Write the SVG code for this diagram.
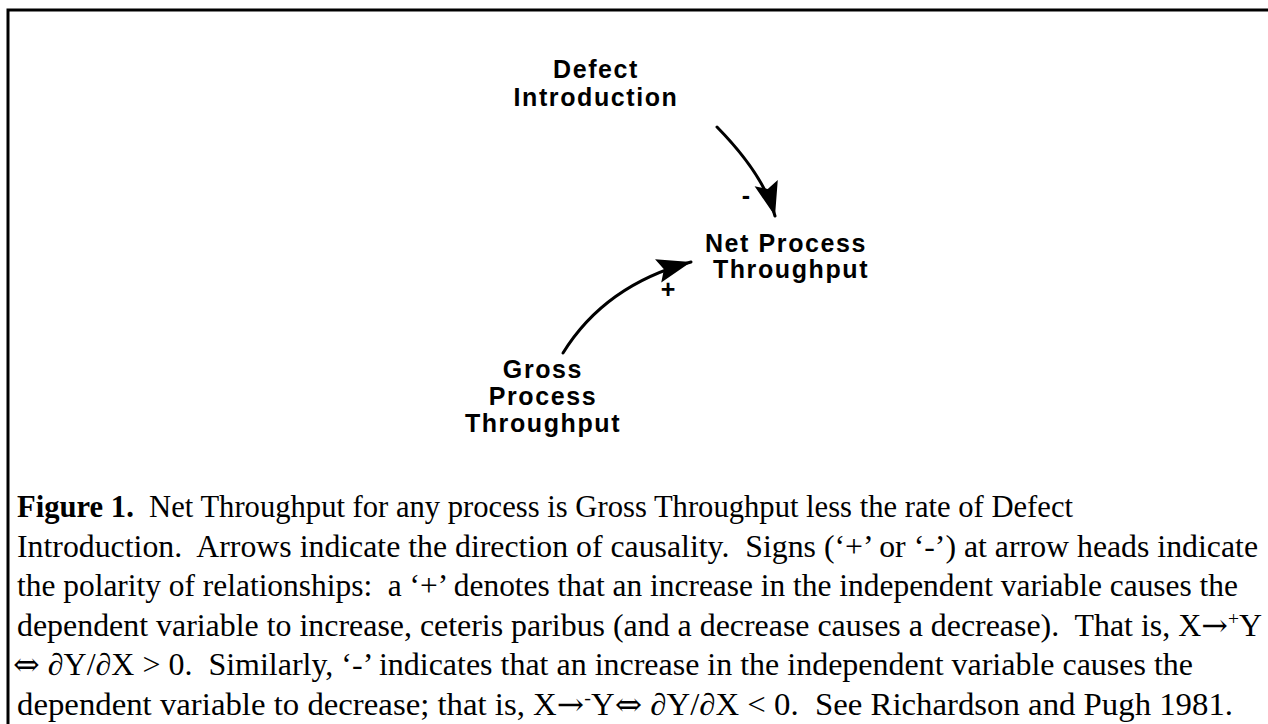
<svg xmlns="http://www.w3.org/2000/svg" width="1268" height="724" viewBox="0 0 1268 724">
<style>
.node{font-family:"Liberation Sans",Arial,sans-serif;font-weight:bold;font-size:25px;letter-spacing:1.6px;fill:#000;text-anchor:middle}
.sign{font-family:"Liberation Sans",Arial,sans-serif;font-weight:bold;font-size:25px;fill:#000;text-anchor:middle}
.link{fill:none;stroke:#000;stroke-width:3;stroke-linecap:round}
.cap{font-family:"Liberation Serif","Times New Roman",serif;font-size:31px;fill:#000}
.sym{font-family:"DejaVu Serif","Liberation Serif",serif}
.sup{font-size:19px}
</style>
<defs>
<marker id="head" markerUnits="userSpaceOnUse" markerWidth="38" markerHeight="28" refX="34" refY="12" orient="auto">
<path d="M0,0 L34,12 L0,24 L6,12 Z" fill="#000"/>
</marker>
</defs>
<rect width="1268" height="724" fill="#fff"/>
<path d="M8,724 V10 H1268" fill="none" stroke="#000" stroke-width="3"/>
<g id="connectors">
<path class="link" d="M717,127 Q764,175 775,216" marker-end="url(#head)"/>
<path class="link" d="M563,353 Q605,285 691,262" marker-end="url(#head)"/>
<text class="sign" x="746" y="204">-</text>
<text class="sign" x="668" y="298">+</text>
</g>
<g id="defect-introduction">
<text class="node" x="596" y="78">Defect</text>
<text class="node" x="596" y="106">Introduction</text>
</g>
<g id="net-process-throughput">
<text class="node" x="786" y="252">Net Process</text>
<text class="node" x="791" y="278">Throughput</text>
</g>
<g id="gross-process-throughput">
<text class="node" x="543" y="378">Gross</text>
<text class="node" x="543" y="405">Process</text>
<text class="node" x="543" y="432">Throughput</text>
</g>
<g id="caption" class="cap">
<text x="17" y="517" textLength="1056" lengthAdjust="spacingAndGlyphs"><tspan font-weight="bold">Figure 1.</tspan>&#160; Net Throughput for any process is Gross Throughput less the rate of Defect</text>
<text x="17" y="557" textLength="1241" lengthAdjust="spacingAndGlyphs">Introduction.&#160; Arrows indicate the direction of causality.&#160; Signs (‘+’ or ‘-’) at arrow heads indicate</text>
<text x="17" y="596" textLength="1221" lengthAdjust="spacingAndGlyphs">the polarity of relationships:&#160; a ‘+’ denotes that an increase in the independent variable causes the</text>
<text x="17" y="636" textLength="1245" lengthAdjust="spacingAndGlyphs">dependent variable to increase, ceteris paribus (and a decrease causes a decrease).&#160; That is, X<tspan class="sym">→</tspan><tspan class="sup" dy="-11">+</tspan><tspan dy="11">Y</tspan></text>
<text x="13" y="675" textLength="1180" lengthAdjust="spacingAndGlyphs"><tspan class="sym">⇔</tspan> ∂Y/∂X &gt; 0.&#160; Similarly, ‘-’ indicates that an increase in the independent variable causes the</text>
<text x="17" y="715" textLength="1216" lengthAdjust="spacingAndGlyphs">dependent variable to decrease; that is, X<tspan class="sym">→</tspan><tspan class="sup" dy="-11">-</tspan><tspan dy="11">Y</tspan><tspan class="sym">⇔</tspan> ∂Y/∂X &lt; 0.&#160; See Richardson and Pugh 1981.</text>
</g>
</svg>
